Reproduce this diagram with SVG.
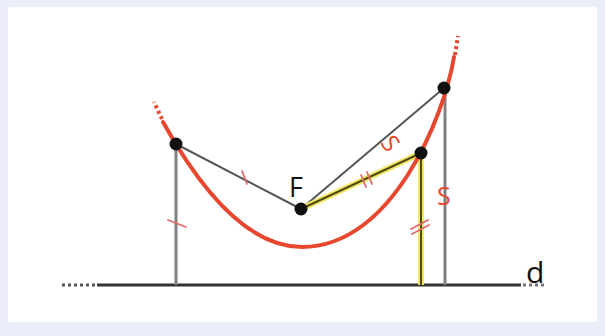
<svg xmlns="http://www.w3.org/2000/svg" width="605" height="336" viewBox="0 0 605 336">
<style>
.curve{fill:none;stroke:#e8472f;stroke-width:4;stroke-linecap:round}
.dots{fill:none;stroke:#e8472f;stroke-width:4;stroke-dasharray:3 3}
.gray{stroke:#555;stroke-width:2;fill:none}
.vert{stroke:#808080;stroke-width:3;fill:none}
.halo{stroke:#f3e66a;stroke-width:6;fill:none}
.core{stroke:#4d4d12;stroke-width:2;fill:none}
.tick{stroke:#e06a6a;stroke-width:1.8;fill:none;stroke-linecap:round}
.pt{fill:#111}
.lbl{font-family:"Open Sans","Liberation Sans",sans-serif}
</style>
<rect x="0" y="0" width="605" height="336" fill="#e9eef8"/>
<rect x="8" y="7" width="589" height="315" rx="3" fill="#ffffff"/>
<g id="directrix">
<line x1="97" y1="285" x2="521" y2="285" stroke="#333" stroke-width="3"/>
<line x1="62" y1="285" x2="96" y2="285" stroke="#555" stroke-width="3" stroke-dasharray="3 3"/>
<line x1="523" y1="285" x2="547" y2="285" stroke="#777" stroke-width="3" stroke-dasharray="3 3"/>
<text class="lbl" x="526" y="283" font-size="30" fill="#111">d</text>
</g>
<g id="connectors">
<line class="vert" x1="176" y1="144" x2="176" y2="285"/>
<line class="vert" x1="445" y1="89" x2="445" y2="285"/>
<line class="halo" x1="421" y1="153" x2="421" y2="285"/>
<line class="core" x1="421" y1="153" x2="421" y2="285"/>
<line class="gray" x1="176" y1="144" x2="301" y2="209"/>
<line class="gray" x1="301" y1="209" x2="444" y2="88"/>
<line class="halo" x1="301" y1="209" x2="421" y2="153"/>
<line class="core" x1="301" y1="209" x2="421" y2="153"/>
</g>
<g id="parabola">
<path class="curve" d="M163,122 Q232.5,247 302,247 C392,247 444,117 454,57"/>
<line class="dots" x1="162" y1="119" x2="154" y2="102"/>
<line class="dots" x1="455" y1="55" x2="458" y2="36"/>
</g>
<g id="marks">
<line class="tick" x1="242" y1="171" x2="247" y2="184"/>
<line class="tick" x1="168" y1="220" x2="186" y2="227"/>
<line class="tick" x1="361" y1="175" x2="366" y2="187"/>
<line class="tick" x1="367" y1="172" x2="372" y2="184"/>
<line class="tick" x1="411" y1="229" x2="428" y2="220"/>
<line class="tick" x1="412" y1="234" x2="429" y2="225"/>
<text class="lbl" x="0" y="0" font-size="24" fill="#e8472f" text-anchor="middle" transform="translate(391,143) rotate(55) translate(0,9)">S</text>
<text class="lbl" x="437" y="205" font-size="25" fill="#e8472f">S</text>
</g>
<g id="F">
<circle class="pt" cx="301" cy="209" r="6.5"/>
<text class="lbl" x="289" y="197" font-size="27" fill="#111">F</text>
</g>
<g id="P1"><circle class="pt" cx="176" cy="144" r="6.5"/></g>
<g id="P2"><circle class="pt" cx="421" cy="153" r="6.5"/></g>
<g id="P3"><circle class="pt" cx="444" cy="88" r="6.5"/></g>
</svg>
